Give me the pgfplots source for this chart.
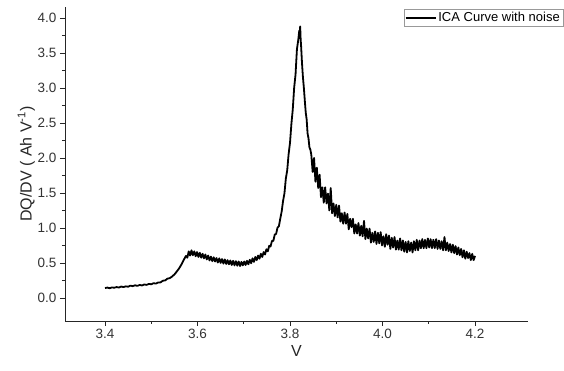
\documentclass[border=0pt]{standalone}
\usepackage{pgfplots}
\pgfplotsset{compat=1.18}
\usepackage{fontspec}
\setmainfont{Liberation Sans}
\definecolor{tickgray}{HTML}{333333}
\begin{document}
\begin{tikzpicture}
\begin{axis}[
  scale only axis,
  width=463pt, height=314pt,
  xmin=3.3135, xmax=4.3146,
  ymin=-0.33, ymax=4.157,
  axis x line=bottom, axis y line=left,
  axis line style={-, line width=0.9pt, color=black!85},
  tick align=outside,
  major tick length=5pt, minor tick length=3pt,
  every tick/.style={line width=0.8pt, color=black!85},
  xtick={3.4,3.6,3.8,4.0,4.2},
  ytick={0,0.5,1,1.5,2,2.5,3,3.5,4},
  minor x tick num=1, minor y tick num=1,
  xticklabel style={/pgf/number format/.cd, fixed, fixed zerofill, precision=1},
  yticklabel style={/pgf/number format/.cd, fixed, fixed zerofill, precision=1},
  /pgf/number format/assume math mode=true,
  tick label style={font=\fontsize{13.5}{15}\selectfont, color=tickgray},
  xlabel={V}, ylabel={DQ/DV ( Ah V\textsuperscript{-1})},
  label style={font=\fontsize{16}{18}\selectfont, color=black!85},
  xlabel style={yshift=0pt},
  ylabel style={yshift=-4pt},
  legend style={at={(1,1)}, anchor=north east, xshift=35pt, yshift=-2pt,
    draw=black!40, line width=0.5pt, font=\fontsize{13}{14}\selectfont,
    inner sep=1pt, row sep=0pt},
  legend cell align=left,
  legend image code/.code={\draw[line width=1.6pt] (0pt,0pt) -- (30pt,0pt);},
]
\addplot[black, line width=1.8pt, line join=round] table {
x y
3.400 0.140
3.405 0.148
3.410 0.138
3.415 0.150
3.420 0.145
3.425 0.155
3.430 0.148
3.435 0.162
3.440 0.155
3.445 0.165
3.450 0.160
3.455 0.175
3.460 0.168
3.465 0.180
3.470 0.172
3.475 0.185
3.480 0.178
3.485 0.192
3.490 0.186
3.495 0.200
3.500 0.195
3.505 0.210
3.510 0.205
3.515 0.220
3.520 0.222
3.525 0.245
3.530 0.250
3.535 0.275
3.540 0.282
3.545 0.305
3.550 0.335
3.555 0.375
3.560 0.420
3.565 0.475
3.570 0.540
3.575 0.600
3.578 0.575
3.581 0.665
3.584 0.605
3.587 0.680
3.590 0.610
3.593 0.665
3.596 0.595
3.599 0.655
3.602 0.585
3.605 0.645
3.608 0.575
3.611 0.630
3.614 0.565
3.617 0.620
3.620 0.550
3.623 0.605
3.626 0.535
3.629 0.590
3.632 0.525
3.635 0.580
3.638 0.520
3.641 0.570
3.644 0.505
3.647 0.565
3.650 0.500
3.653 0.555
3.656 0.490
3.659 0.550
3.662 0.485
3.665 0.540
3.668 0.480
3.671 0.535
3.674 0.470
3.677 0.530
3.680 0.465
3.683 0.525
3.686 0.460
3.689 0.520
3.692 0.455
3.695 0.515
3.698 0.465
3.701 0.520
3.704 0.470
3.707 0.530
3.710 0.480
3.713 0.545
3.716 0.495
3.719 0.565
3.722 0.515
3.725 0.585
3.728 0.540
3.731 0.605
3.734 0.560
3.737 0.630
3.740 0.585
3.743 0.655
3.746 0.620
3.749 0.695
3.752 0.665
3.755 0.745
3.758 0.735
3.761 0.815
3.764 0.815
3.767 0.905
3.770 0.915
3.773 1.005
3.776 1.025
3.779 1.135
3.782 1.235
3.785 1.385
3.788 1.495
3.791 1.705
3.794 1.825
3.797 2.055
3.800 2.215
3.803 2.485
3.806 2.695
3.809 3.005
3.812 3.195
3.815 3.555
3.818 3.695
3.820 3.820
3.821 3.780
3.822 3.880
3.823 3.700
3.824 3.600
3.826 3.350
3.828 3.150
3.830 3.000
3.832 2.820
3.834 2.650
3.836 2.550
3.838 2.350
3.840 2.280
3.842 2.150
3.844 2.120
3.846 2.05
3.849 1.80
3.852 2.00
3.855 1.66
3.858 1.86
3.861 1.57
3.864 1.76
3.867 1.44
3.870 1.58
3.873 1.36
3.876 1.58
3.879 1.35
3.882 1.49
3.885 1.25
3.888 1.57
3.891 1.21
3.894 1.35
3.897 1.17
3.900 1.33
3.903 1.15
3.906 1.32
3.909 1.09
3.912 1.21
3.915 1.06
3.918 1.22
3.921 1.06
3.924 1.20
3.927 0.98
3.930 1.13
3.933 1.01
3.936 1.13
3.939 0.92
3.942 1.05
3.945 0.92
3.948 1.07
3.951 0.89
3.954 1.03
3.957 0.88
3.960 1.10
3.963 0.84
3.966 0.99
3.969 0.85
3.972 0.99
3.975 0.79
3.978 0.93
3.981 0.80
3.984 0.95
3.987 0.77
3.990 0.93
3.993 0.78
3.996 0.94
3.999 0.75
4.002 0.88
4.005 0.73
4.008 0.91
4.011 0.76
4.014 0.89
4.017 0.70
4.020 0.86
4.023 0.72
4.026 0.87
4.029 0.69
4.032 0.82
4.035 0.69
4.038 0.85
4.041 0.68
4.044 0.82
4.047 0.66
4.050 0.80
4.053 0.65
4.056 0.81
4.059 0.67
4.062 0.79
4.065 0.65
4.068 0.81
4.071 0.68
4.074 0.83
4.077 0.68
4.080 0.82
4.083 0.71
4.086 0.84
4.089 0.71
4.092 0.83
4.095 0.71
4.098 0.85
4.101 0.72
4.104 0.84
4.107 0.71
4.110 0.83
4.113 0.71
4.116 0.84
4.119 0.70
4.122 0.82
4.125 0.70
4.128 0.81
4.131 0.68
4.134 0.87
4.137 0.68
4.140 0.79
4.143 0.67
4.146 0.77
4.149 0.65
4.152 0.76
4.155 0.64
4.158 0.74
4.161 0.62
4.164 0.72
4.167 0.61
4.170 0.70
4.173 0.58
4.176 0.68
4.179 0.56
4.182 0.66
4.185 0.57
4.188 0.64
4.191 0.54
4.194 0.63
4.197 0.54
4.200 0.60
};
\addlegendentry{ICA Curve with noise}
\end{axis}
\pgfresetboundingbox
\path[use as bounding box] ([xshift=-65pt,yshift=-50pt]current axis.south west) rectangle ([xshift=36pt,yshift=7pt]current axis.north east);
\end{tikzpicture}
\end{document}
